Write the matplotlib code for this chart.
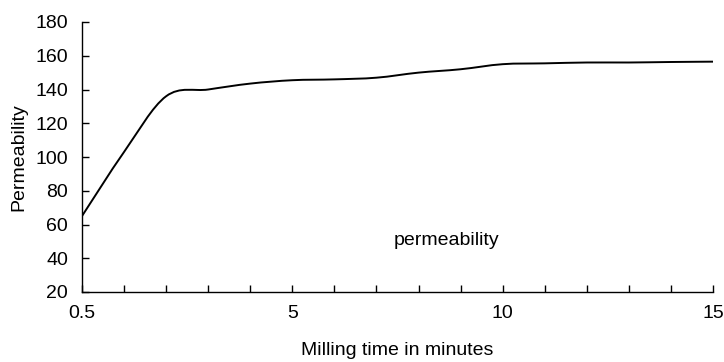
import numpy as np
import matplotlib
matplotlib.use("Agg")
import matplotlib.pyplot as plt
from matplotlib.path import Path
from matplotlib.patches import PathPatch

plt.rcParams['font.family'] = ['Liberation Sans', 'DejaVu Sans']

# Data: milling time categories (equally spaced, Excel-style category axis)
milling_times = [0.5, 1, 2, 3, 4, 5, 6, 7, 8, 9, 10, 11, 12, 13, 14, 15]
permeability = [65, 103, 136, 140, 143.5, 145.5, 146, 147, 150, 152, 155, 155.5, 156, 156, 156.3, 156.5]
shown_labels = {0.5: "0.5", 5: "5", 10: "10", 15: "15"}
y_ticks = [20, 40, 60, 80, 100, 120, 140, 160, 180]

fig = plt.figure(figsize=(7.24, 3.62), dpi=100)
ax = fig.add_axes([82/724, 1 - 292/362, (713-82)/724, (292-22)/362])

xpos = np.arange(len(milling_times), dtype=float)
ys = np.array(permeability, dtype=float)

# Smoothed line (Catmull-Rom -> cubic Bezier), as Excel's smoothed line
verts = [(xpos[0], ys[0])]
codes = [Path.MOVETO]
n = len(xpos)
for i in range(n - 1):
    p0 = np.array([xpos[max(i-1, 0)], ys[max(i-1, 0)]])
    p1 = np.array([xpos[i], ys[i]])
    p2 = np.array([xpos[i+1], ys[i+1]])
    p3 = np.array([xpos[min(i+2, n-1)], ys[min(i+2, n-1)]])
    c1 = p1 + (p2 - p0) / 6.0
    c2 = p2 - (p3 - p1) / 6.0
    verts += [tuple(c1), tuple(c2), tuple(p2)]
    codes += [Path.CURVE4] * 3
ax.add_patch(PathPatch(Path(verts, codes), facecolor='none', edgecolor='black', lw=1.4))

ax.set_xlim(0, len(milling_times) - 1)
ax.set_ylim(20, 180)
ax.set_yticks(y_ticks)
ax.set_yticklabels([str(v) for v in y_ticks])
ax.set_xticks(xpos)
ax.set_xticklabels([shown_labels.get(t, "") for t in milling_times])

for s in ['top', 'right']:
    ax.spines[s].set_visible(False)
for s in ['left', 'bottom']:
    ax.spines[s].set_linewidth(1.0)
ax.tick_params(axis='both', direction='in', length=5, width=1, labelsize=14, colors='black')
ax.tick_params(axis='x', pad=9)
ax.tick_params(axis='y', pad=10)

ax.set_ylabel("Permeability", fontsize=14, labelpad=6)
ax.set_xlabel("Milling time in minutes", fontsize=14, labelpad=15)

ax.text(8.67, 50.8, "permeability", fontsize=14, ha='center', va='center')

fig.savefig("out.png", dpi=100)
